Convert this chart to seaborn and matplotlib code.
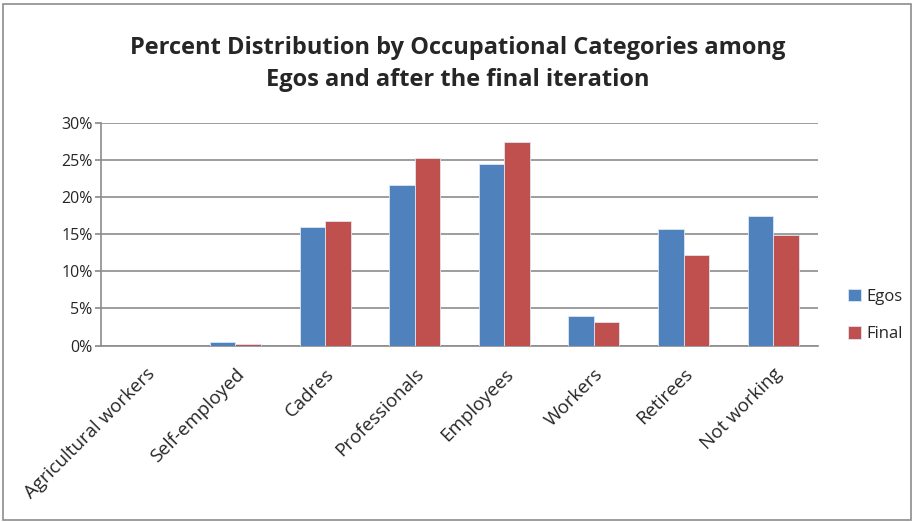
import matplotlib
matplotlib.use("Agg")
import matplotlib.pyplot as plt
import seaborn as sns
import pandas as pd
from matplotlib.patches import Rectangle
from matplotlib.ticker import PercentFormatter

categories = ["Agricultural workers", "Self-employed", "Cadres", "Professionals",
              "Employees", "Workers", "Retirees", "Not working"]
egos = [0.0, 0.5, 16.0, 21.7, 24.5, 4.0, 15.7, 17.4]
final = [0.0, 0.2, 16.85, 25.3, 27.5, 3.15, 12.2, 14.95]
series_names = ["Egos", "Final"]
yticks = [0, 5, 10, 15, 20, 25, 30]

df = pd.DataFrame({
    "Category": categories * 2,
    "Value": egos + final,
    "Series": [series_names[0]] * len(categories) + [series_names[1]] * len(categories),
})

sns.set_theme(style="white")
plt.rcParams["font.family"] = ["Open Sans", "DejaVu Sans"]

fig = plt.figure(figsize=(9.16, 5.22), dpi=100)
ax = fig.add_axes([101 / 916, 1 - 345.5 / 522, (818 - 101) / 916, (345.5 - 123) / 522])

sns.barplot(data=df, x="Category", y="Value", hue="Series", order=categories,
            hue_order=series_names, palette=["#4F81BD", "#C0504D"], saturation=1,
            width=0.57, edgecolor="#dce6f2", linewidth=0.6, ax=ax, zorder=3)

ax.set_ylim(0, 30)
ax.set_yticks(yticks)
ax.yaxis.set_major_formatter(PercentFormatter(decimals=0))
ax.grid(axis="y", color="#8c8c8c", linewidth=1.2, zorder=0)
ax.set_axisbelow(True)
for s in ["top", "right"]:
    ax.spines[s].set_visible(False)
ax.spines["left"].set_color("#8c8c8c")
ax.spines["bottom"].set_color("#8c8c8c")
ax.spines["left"].set_linewidth(1.2)
ax.spines["bottom"].set_linewidth(1.2)
ax.set_xlabel("")
ax.set_ylabel("")
ax.tick_params(axis="y", labelsize=11.5, length=4, color="#8c8c8c", left=True, pad=2)
ax.tick_params(axis="x", length=0, pad=14)
ax.set_xticks(range(len(categories)))
ax.set_xticklabels(categories, rotation=45, ha="right", rotation_mode="anchor", fontsize=13.5)

leg = ax.legend(loc="center left", bbox_to_anchor=(1.033, 0.135), frameon=False,
                fontsize=12, handlelength=0.75, handleheight=0.75, handletextpad=0.35,
                labelspacing=1.3, borderaxespad=0)

fig.text(0.5, 1 - 48 / 522, "Percent Distribution by Occupational Categories among",
         ha="center", va="center", fontsize=17, fontweight="bold")
fig.text(0.5, 1 - 80 / 522, "Egos and after the final iteration",
         ha="center", va="center", fontsize=17, fontweight="bold")

fig.patches.append(Rectangle((3 / 916, 2 / 522), 908 / 916, 516 / 522,
                             transform=fig.transFigure, fill=False,
                             edgecolor="#8c8c8c", linewidth=1.2))

fig.savefig("out.png", dpi=100)
